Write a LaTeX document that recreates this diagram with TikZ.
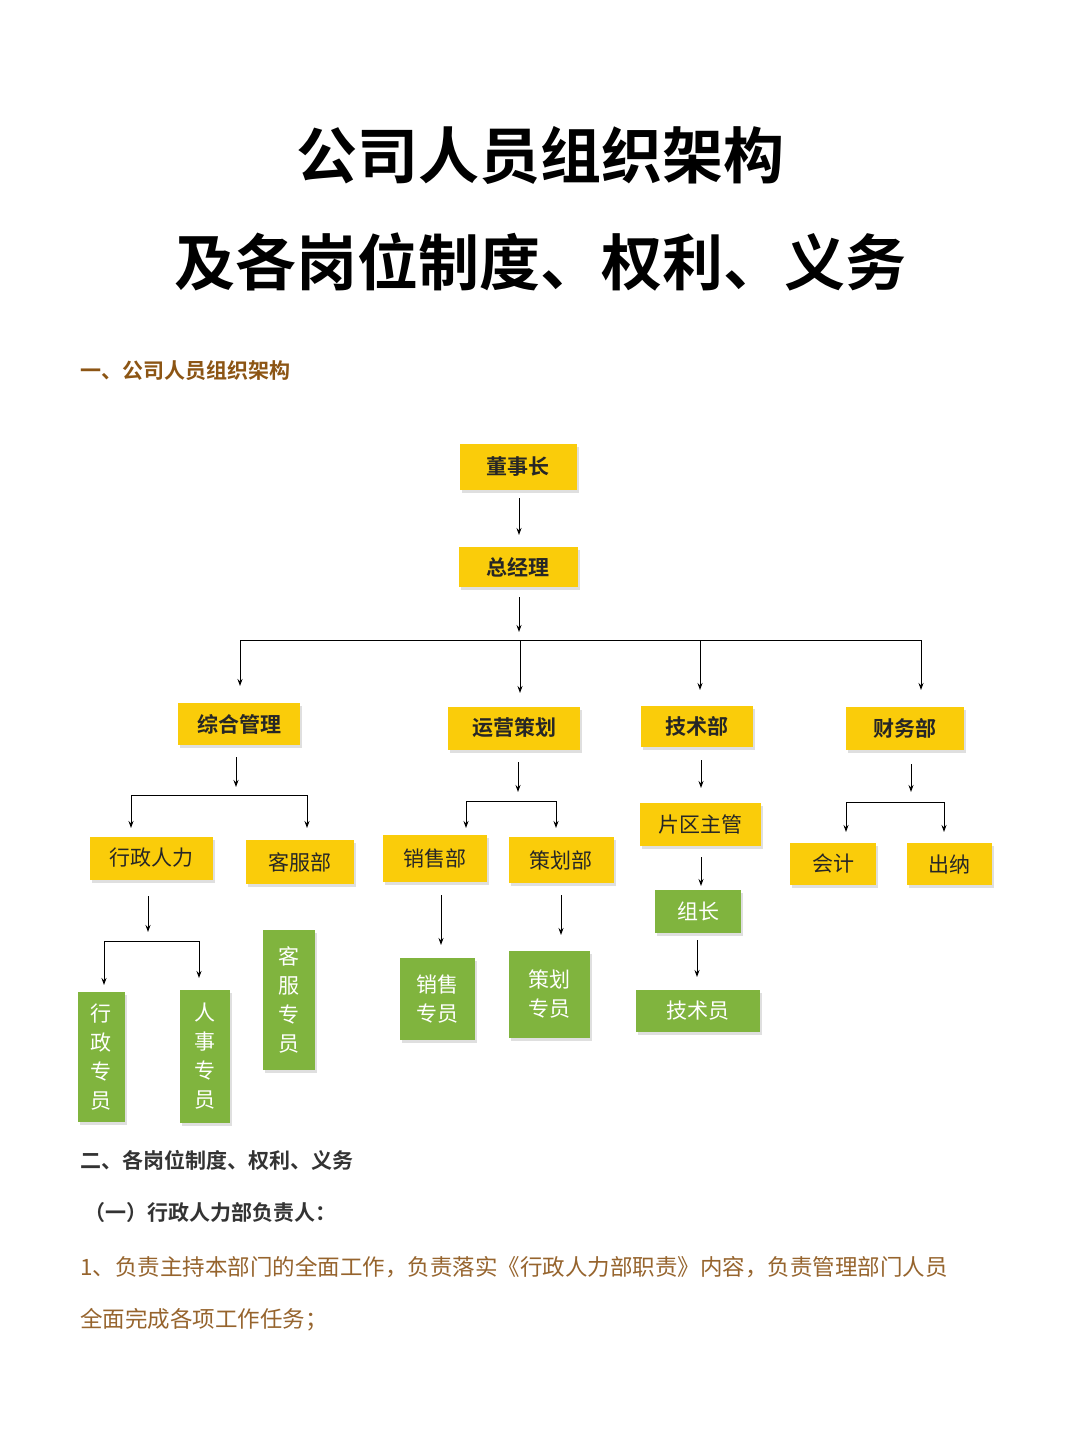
\documentclass[tikz,border=0pt]{standalone}
\usepackage{fontspec}
\setmainfont{Noto Sans CJK SC}[BoldFont={Noto Sans CJK SC Bold}]
\usetikzlibrary{shadows,arrows.meta}
\definecolor{yel}{RGB}{250,204,10}
\definecolor{grn}{RGB}{128,180,62}
\definecolor{brn}{RGB}{140,85,20}
\definecolor{body}{RGB}{150,100,45}
\begin{document}
\begin{tikzpicture}[x=1pt,y=-1pt,
  ybox/.style={fill=yel,inner sep=0,drop shadow={shadow xshift=2pt,shadow yshift=-3pt,opacity=0.25},font=\fontsize{21}{24}\selectfont,text=black!85},
  gbox/.style={fill=grn,inner sep=0,drop shadow={shadow xshift=2pt,shadow yshift=-3pt,opacity=0.25},font=\fontsize{21}{29}\selectfont,text=white,align=center},
  arr/.style={-{Stealth[length=7pt,width=5pt]},line width=1pt},
  ln/.style={line width=1pt}]
\useasboundingbox (0,0) rectangle (1080,1439);
\fill[white] (0,0) rectangle (1080,1439);
\node[font=\bfseries\fontsize{61}{61}\selectfont] (t1) at (540,155) {公司人员组织架构};
\node[font=\bfseries\fontsize{61}{61}\selectfont] (t2) at (540,262) {及各岗位制度、权利、义务};
\node[anchor=west,font=\bfseries\fontsize{21}{21}\selectfont,text=brn,inner sep=0] (h1) at (80,371) {一、公司人员组织架构};
% yellow boxes
\node[ybox,minimum width=117pt,minimum height=46pt,font=\bfseries\fontsize{21}{24}\selectfont] (dsz) at (518,467) {董事长};
\node[ybox,minimum width=119pt,minimum height=40pt,font=\bfseries\fontsize{21}{24}\selectfont] (zjl) at (518,567) {总经理};
\node[ybox,minimum width=122pt,minimum height=42pt,font=\bfseries\fontsize{21}{24}\selectfont] (zh) at (239,724) {综合管理};
\node[ybox,minimum width=132pt,minimum height=43pt,font=\bfseries\fontsize{21}{24}\selectfont] (yy) at (514,728) {运营策划};
\node[ybox,minimum width=112pt,minimum height=41pt,font=\bfseries\fontsize{21}{24}\selectfont] (js) at (697,726) {技术部};
\node[ybox,minimum width=118pt,minimum height=43pt,font=\bfseries\fontsize{21}{24}\selectfont] (cw) at (905,728) {财务部};
\node[ybox,minimum width=123pt,minimum height=43pt] (xz) at (151,858) {行政人力};
\node[ybox,minimum width=108pt,minimum height=44pt] (kf) at (300,862) {客服部};
\node[ybox,minimum width=104pt,minimum height=47pt] (xs) at (435,858) {销售部};
\node[ybox,minimum width=105pt,minimum height=46pt] (ch) at (561,860) {策划部};
\node[ybox,minimum width=121pt,minimum height=43pt] (pq) at (700,824) {片区主管};
\node[ybox,minimum width=86pt,minimum height=42pt] (kj) at (833,864) {会计};
\node[ybox,minimum width=85pt,minimum height=42pt] (cn) at (949,864) {出纳};
% green boxes
\node[gbox,minimum width=47pt,minimum height=130pt] (xzzy) at (101,1057) {行\\政\\专\\员};
\node[gbox,minimum width=50pt,minimum height=133pt] (rszy) at (205,1056) {人\\事\\专\\员};
\node[gbox,minimum width=52pt,minimum height=140pt] (kfzy) at (289,1000) {客\\服\\专\\员};
\node[gbox,minimum width=75pt,minimum height=82pt] (xszy) at (437,999) {销售\\专员};
\node[gbox,minimum width=81pt,minimum height=87pt] (chzy) at (549,994) {策划\\专员};
\node[gbox,minimum width=86pt,minimum height=43pt] (zz) at (698,911) {组长};
\node[gbox,minimum width=124pt,minimum height=42pt] (jsy) at (698,1011) {技术员};
% connectors
\draw[arr] (519,498) -- (519,535);
\draw[arr] (519,597) -- (519,632);
\draw[ln] (240,640) -- (921,640);
\draw[arr] (240,640) -- (240,686);
\draw[arr] (520,640) -- (520,693);
\draw[arr] (700,640) -- (700,690);
\draw[arr] (921,640) -- (921,690);
\draw[arr] (236,757) -- (236,787);
\draw[ln] (131,795) -- (307,795);
\draw[arr] (131,795) -- (131,828);
\draw[arr] (307,795) -- (307,828);
\draw[arr] (518,762) -- (518,792);
\draw[ln] (466,801) -- (556,801);
\draw[arr] (466,801) -- (466,828);
\draw[arr] (556,801) -- (556,828);
\draw[arr] (701,760) -- (701,788);
\draw[arr] (911,764) -- (911,792);
\draw[ln] (846,802) -- (944,802);
\draw[arr] (846,802) -- (846,832);
\draw[arr] (944,802) -- (944,832);
\draw[arr] (148,896) -- (148,932);
\draw[ln] (104,941) -- (199,941);
\draw[arr] (104,941) -- (104,985);
\draw[arr] (199,941) -- (199,978);
\draw[arr] (441,895) -- (441,945);
\draw[arr] (561,895) -- (561,935);
\draw[arr] (701,857) -- (701,886);
\draw[arr] (697,940) -- (697,977);
% section 2
\node[anchor=west,font=\bfseries\fontsize{21}{21}\selectfont,text=black!80,inner sep=0] (h2) at (80,1160) {二、各岗位制度、权利、义务};
\node[anchor=west,font=\bfseries\fontsize{21}{21}\selectfont,text=black!80,inner sep=0] (h3) at (84,1213) {（一）行政人力部负责人：};
\node[anchor=west,font=\fontsize{22.5}{22.5}\selectfont,text=body,inner sep=0] (p1) at (80,1267) {1、负责主持本部门的全面工作，负责落实《行政人力部职责》内容，负责管理部门人员};
\node[anchor=west,font=\fontsize{22.5}{22.5}\selectfont,text=body,inner sep=0] (p2) at (80,1320) {全面完成各项工作任务；};
\end{tikzpicture}
\end{document}
